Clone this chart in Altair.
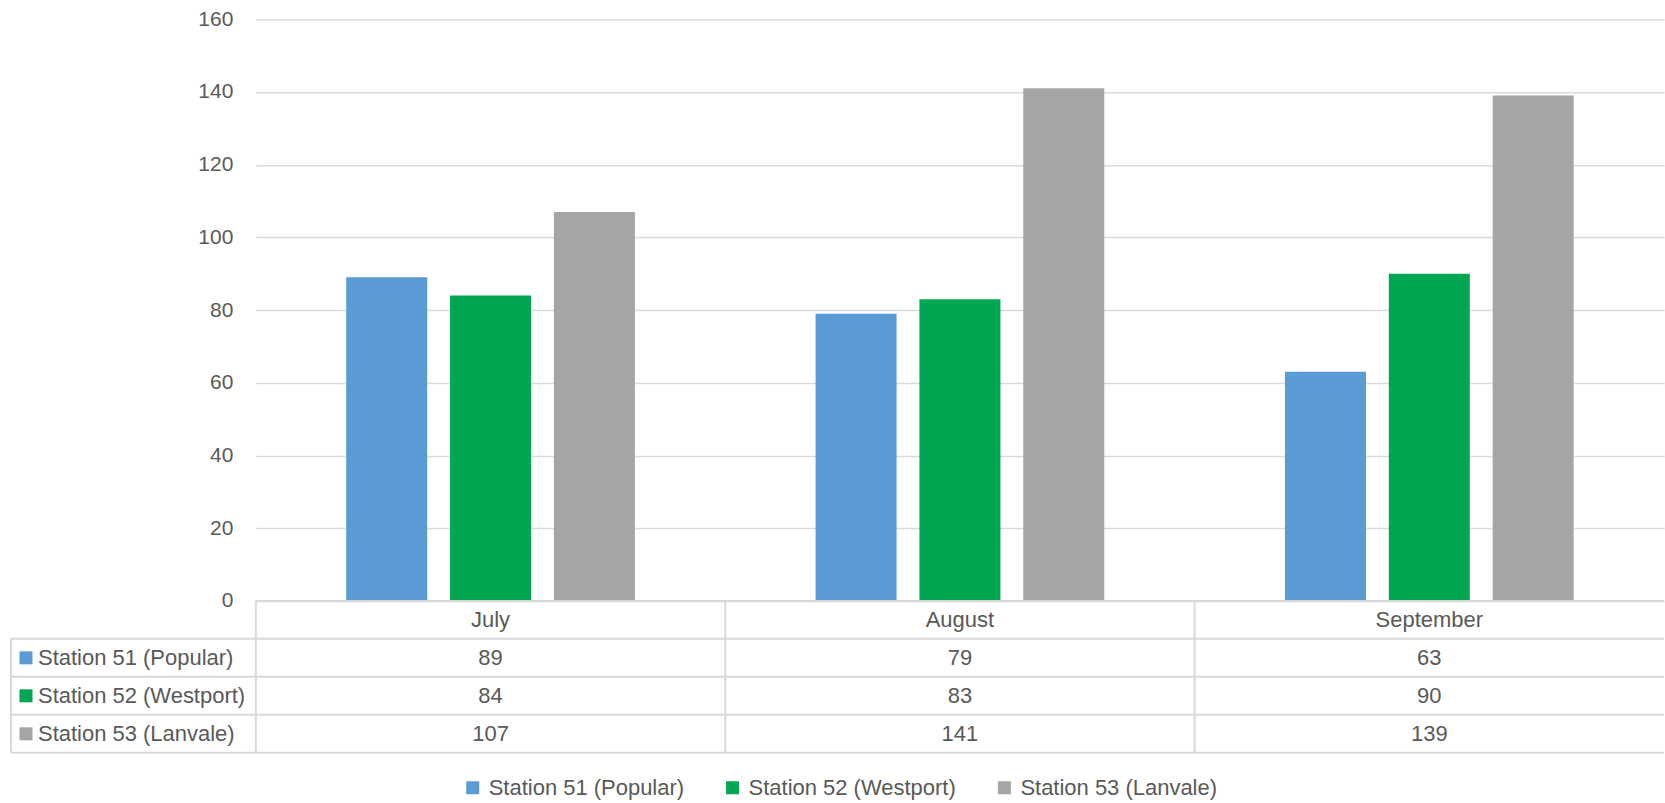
import altair as alt
import pandas as pd

# Monthly counts per station
months = ["July", "August", "September"]
series = ["Station 51 (Popular)", "Station 52 (Westport)", "Station 53 (Lanvale)"]
colors = ["#5B9BD5", "#00A651", "#A5A5A5"]
station51 = [89, 79, 63]
station52 = [84, 83, 90]
station53 = [107, 141, 139]
y_ticks = [0, 20, 40, 60, 80, 100, 120, 140, 160]

records = []
for idx, (name, vals) in enumerate(zip(series, [station51, station52, station53])):
    for month, val in zip(months, vals):
        records.append({"month": month, "series": name, "value": val,
                        "row_mid": idx + 1.5})
df = pd.DataFrame(records)
labels_df = pd.DataFrame({"series": series,
                          "row_mid": [i + 1.5 for i in range(len(series))]})
header_df = pd.DataFrame({"month": months, "row_mid": [0.5] * len(months)})
hlines_df = pd.DataFrame({"y": [1, 2, 3, 4]})
vlines_df = pd.DataFrame({"month": months, "y": [0] * 3, "y2": [4] * 3})

FONT = "Liberation Sans"
TEXT = "#595959"
GRID = "#D9D9D9"
FS = 22
W, H_PLOT, H_TABLE = 1409, 582, 152
LABEL_COL = 245

color_scale = alt.Scale(domain=series, range=colors)
x_scale = alt.Scale(domain=months, paddingInner=0, paddingOuter=0)

bars = alt.Chart(df).mark_bar().encode(
    x=alt.X("month:N", scale=x_scale, sort=months, axis=None),
    xOffset=alt.XOffset("series:N", sort=series,
                        scale=alt.Scale(paddingInner=0.22, paddingOuter=0.87)),
    y=alt.Y("value:Q", scale=alt.Scale(domain=[0, 160]),
            axis=alt.Axis(values=y_ticks, title=None, grid=True, gridColor=GRID,
                          gridWidth=1.5, domain=False, ticks=False,
                          labelFontSize=21, labelColor=TEXT, labelPadding=23,
                          labelFont=FONT)),
    color=alt.Color("series:N", scale=color_scale, sort=series,
                    legend=alt.Legend(title=None, orient="none", direction="horizontal",
                                      legendX=206, legendY=758, padding=0,
                                      symbolType="square", symbolSize=169,
                                      symbolStrokeWidth=0, labelFontSize=FS,
                                      labelColor=TEXT, labelFont=FONT, labelOffset=5,
                                      labelLimit=0, columnPadding=37)),
).properties(width=W, height=H_PLOT)

# Data table under the plot
y_tab = alt.Scale(domain=[0, 4], reverse=True, nice=False)
tx = alt.X("month:N", scale=x_scale, sort=months, axis=None)

values_text = alt.Chart(df).mark_text(fontSize=FS, color=TEXT, font=FONT).encode(
    x=tx,
    y=alt.Y("row_mid:Q", scale=y_tab, axis=None),
    text="value:Q",
)
header_text = alt.Chart(header_df).mark_text(fontSize=FS, color=TEXT, font=FONT).encode(
    x=tx,
    y=alt.Y("row_mid:Q", scale=y_tab, axis=None),
    text="month:N",
)
row_labels = alt.Chart(labels_df).mark_text(fontSize=FS, color=TEXT, font=FONT,
                                             align="left").encode(
    x=alt.value(-218),
    y=alt.Y("row_mid:Q", scale=y_tab, axis=None),
    text="series:N",
)
row_keys = alt.Chart(labels_df).mark_square(size=169, opacity=1).encode(
    x=alt.value(-230),
    y=alt.Y("row_mid:Q", scale=y_tab, axis=None),
    color=alt.Color("series:N", scale=color_scale, legend=None),
)
top_line = alt.Chart(pd.DataFrame({"y": [0]})).mark_rule(color=GRID, strokeWidth=2).encode(
    x=alt.value(0), x2=alt.value(W),
    y=alt.Y("y:Q", scale=y_tab, axis=None),
)
row_lines = alt.Chart(hlines_df).mark_rule(color=GRID, strokeWidth=2).encode(
    x=alt.value(-LABEL_COL), x2=alt.value(W),
    y=alt.Y("y:Q", scale=y_tab, axis=None),
)
col_lines = alt.Chart(vlines_df).mark_rule(color=GRID, strokeWidth=2).encode(
    x=alt.X("month:N", scale=x_scale, sort=months, axis=None, bandPosition=0),
    y=alt.Y("y:Q", scale=y_tab, axis=None), y2="y2:Q",
)
left_border = alt.Chart(pd.DataFrame({"y": [1], "y2": [4]})).mark_rule(
    color=GRID, strokeWidth=2).encode(
    x=alt.value(-LABEL_COL),
    y=alt.Y("y:Q", scale=y_tab, axis=None), y2="y2:Q",
)

table = alt.layer(top_line, row_lines, col_lines, left_border,
                  header_text, values_text, row_keys, row_labels).properties(
    width=W, height=H_TABLE)

chart = alt.vconcat(bars, table, spacing=0, bounds="flush").resolve_scale(
    color="independent"
).properties(
    padding={"left": 10, "top": 8, "right": 0, "bottom": 5}
).configure(font=FONT, background="white").configure_view(stroke=None)

chart.save("out.html", embed_options={"renderer": "svg", "actions": False})
